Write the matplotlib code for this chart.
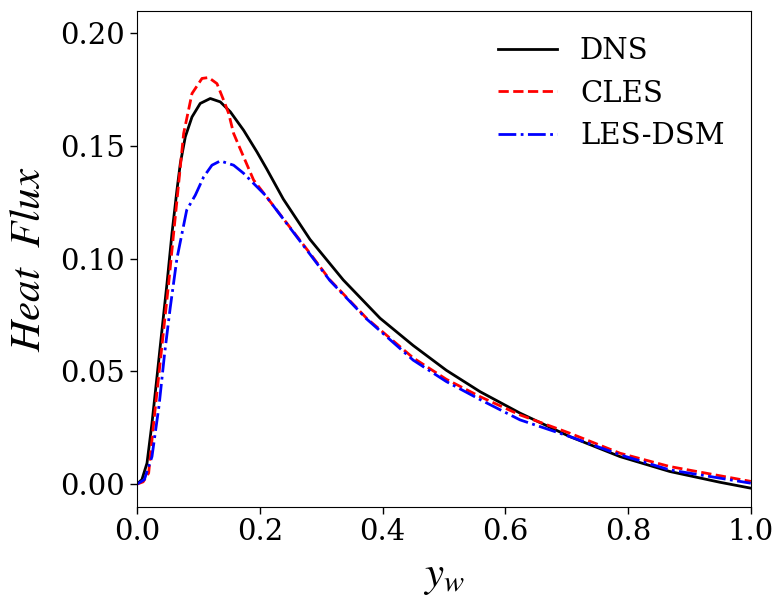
import numpy as np
import matplotlib
matplotlib.use("Agg")
import matplotlib.pyplot as plt

plt.rcParams['font.family'] = 'DejaVu Serif'
plt.rcParams['mathtext.fontset'] = 'stix'

# --- dados ---
x_dns = [0.0, 0.008, 0.0163, 0.0244, 0.0326, 0.0407, 0.0489, 0.057, 0.0651, 0.0706, 0.0787,
         0.0896, 0.103, 0.1194, 0.1357, 0.152, 0.1737, 0.1954, 0.211, 0.2383, 0.2818, 0.336,
         0.396, 0.450, 0.504, 0.559, 0.624, 0.705, 0.787, 0.868, 0.950, 1.0]
y_dns = [0.0, 0.002, 0.0093, 0.027, 0.0477, 0.0684, 0.0891, 0.1113, 0.1305, 0.1423, 0.1541,
         0.1629, 0.1689, 0.1711, 0.1696, 0.1652, 0.157, 0.1474, 0.1400, 0.1265, 0.1086, 0.0906,
         0.0736, 0.0615, 0.0505, 0.041, 0.0315, 0.0211, 0.0122, 0.0056, 0.0008, -0.0018]

x_cles = [0.0, 0.010, 0.019, 0.0271, 0.0353, 0.0434, 0.0516, 0.0597, 0.0668, 0.076, 0.0896,
          0.1059, 0.1167, 0.1303, 0.1412, 0.1493, 0.1574, 0.1737, 0.190, 0.209, 0.2818,
          0.3143, 0.374, 0.450, 0.504, 0.559, 0.624, 0.705, 0.787, 0.868, 1.0]
y_cles = [0.0, 0.001, 0.0049, 0.027, 0.0477, 0.0684, 0.0891, 0.1113, 0.1305, 0.1556, 0.1733,
          0.180, 0.1804, 0.1777, 0.1703, 0.1645, 0.1556, 0.1452, 0.1349, 0.1282, 0.1024,
          0.0906, 0.0736, 0.056, 0.0465, 0.0388, 0.0307, 0.0226, 0.0137, 0.0078, 0.0012]

x_dsm = [0.0, 0.012, 0.0244, 0.036, 0.045, 0.054, 0.065, 0.081, 0.095, 0.1086, 0.1221,
         0.1357, 0.1574, 0.1737, 0.190, 0.209, 0.2818, 0.3143, 0.374, 0.450, 0.504, 0.559,
         0.624, 0.705, 0.787, 0.868, 1.0]
y_dsm = [0.0, 0.002, 0.0122, 0.035, 0.058, 0.078, 0.100, 0.1216, 0.1282, 0.1363, 0.1415,
         0.1434, 0.1415, 0.1379, 0.1334, 0.1282, 0.102, 0.0903, 0.0733, 0.055, 0.0455, 0.0375,
         0.0285, 0.0211, 0.013, 0.0063, 0.0004]

fig = plt.figure(figsize=(7.74, 6.01), dpi=100)
ax = fig.add_axes([0.177, 0.157, 0.793, 0.825])

ax.plot(x_dns, y_dns, 'k-', lw=2, label='DNS')
ax.plot(x_cles, y_cles, 'r--', lw=2, label='CLES')
ax.plot(x_dsm, y_dsm, 'b-.', lw=2, label='LES-DSM')

ax.set_xlim(0, 1)
ax.set_ylim(-0.01, 0.21)
ax.set_xticks([0.0, 0.2, 0.4, 0.6, 0.8, 1.0])
ax.set_yticks([0.0, 0.05, 0.10, 0.15, 0.20])
ax.set_yticklabels(['0.00', '0.05', '0.10', '0.15', '0.20'])
ax.tick_params(labelsize=21, length=5, width=1)

ax.set_xlabel(r'$y_w$', fontsize=31, labelpad=6)
ax.set_ylabel(r'$Heat\ \ Flux$', fontsize=31, labelpad=8)

ax.legend(loc='upper right', frameon=False, fontsize=21)
fig.savefig('out.png', dpi=100)
